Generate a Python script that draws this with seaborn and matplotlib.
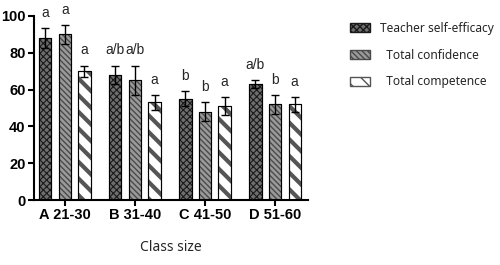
import numpy as np
import pandas as pd
import matplotlib
matplotlib.use("Agg")
import matplotlib.pyplot as plt
import seaborn as sns
from matplotlib.patches import Patch

# --- data ---
groups = ["A 21-30", "B 31-40", "C 41-50", "D 51-60"]
series = ["Teacher self-efficacy", "Total confidence", "Total competence"]
self_efficacy = [88, 68, 55, 63]
confidence = [90, 65, 48, 52]
competence = [70, 53, 51, 52]
err_efficacy = [5.5, 5, 4, 2]
err_confidence = [5, 8, 5, 5]
err_competence = [3, 4, 5, 4]
letters_efficacy = ["a", "a/b", "b", "a/b"]
letters_confidence = ["a", "a/b", "b", "b"]
letters_competence = ["a", "a", "a", "a"]

df = pd.DataFrame({
    "group": groups * 3,
    "series": [s for s in series for _ in groups],
    "value": self_efficacy + confidence + competence,
    "err": err_efficacy + err_confidence + err_competence,
    "letter": letters_efficacy + letters_confidence + letters_competence,
})

sns.set_theme(style="white")
plt.rcParams["font.family"] = ["Liberation Sans", "DejaVu Sans"]

fig = plt.figure(figsize=(5, 2.65), dpi=100)
ax = fig.add_axes([0.068, 0.245, 0.548, 0.695])

sns.barplot(data=df, x="group", y="value", hue="series", errorbar=None,
            width=0.84, gap=0.37, ax=ax, legend=False)

styles = [
    dict(facecolor="#6e6e6e", hatch="xxxxx", hatchcolor="#1a1a1a", hlw=0.8),
    dict(facecolor="#9a9a9a", hatch="\\\\\\\\\\\\", hatchcolor="#4a4a4a", hlw=1.0),
    dict(facecolor="white", hatch="\\\\", hatchcolor="#555555", hlw=3.0),
]

bars = ax.patches[:12]
for i, bar in enumerate(bars):
    st = styles[i // 4]
    bar.set_facecolor(st["facecolor"])
    bar.set_edgecolor(st["hatchcolor"])
    bar.set_hatch(st["hatch"])
    try:
        bar.set_hatch_linewidth(st["hlw"])
    except AttributeError:
        pass
    bar.set_linewidth(0.8)
    # black outline on top
    ax.add_patch(plt.Rectangle(bar.get_xy(), bar.get_width(), bar.get_height(),
                               fill=False, edgecolor="black", linewidth=0.8, zorder=3))
    row = df.iloc[i]
    xc = bar.get_x() + bar.get_width() / 2
    ax.errorbar(xc, row["value"], yerr=row["err"], fmt="none", ecolor="black",
                elinewidth=1.0, capsize=3, capthick=1.0, zorder=4)
    ax.text(xc, row["value"] + row["err"] + 4.5, row["letter"], ha="center",
            va="bottom", fontsize=10, clip_on=False)

ax.set_ylim(0, 100)
ax.set_xlim(-0.44, 3.47)
ax.set_yticks([0, 20, 40, 60, 80, 100])
ax.set_xlabel("Class size", fontsize=10, family=["Noto Sans", "DejaVu Sans"], labelpad=13)
ax.set_ylabel("")
ax.tick_params(axis="both", direction="out", length=4, width=1.5, colors="black",
               labelsize=10.5, bottom=True, left=True, pad=2)
for lab in ax.get_xticklabels() + ax.get_yticklabels():
    lab.set_fontweight("bold")
sns.despine(ax=ax)
for sp in ["left", "bottom"]:
    ax.spines[sp].set_linewidth(1.5)
    ax.spines[sp].set_color("black")

handles = []
for st in styles:
    p = Patch(facecolor=st["facecolor"], edgecolor=st["hatchcolor"], hatch=st["hatch"])
    handles.append(p)
labels = ["Teacher self-efficacy", "  Total confidence", "  Total competence"]
leg = fig.legend(handles, labels, loc="upper left", bbox_to_anchor=(0.69, 0.935),
                 frameon=False, handlelength=1.7, handleheight=0.8,
                 labelspacing=1.15, handletextpad=0.85, borderaxespad=0,
                 prop={"family": ["Noto Sans", "DejaVu Sans"], "size": 8.6})

fig.savefig("out.png", dpi=100)
